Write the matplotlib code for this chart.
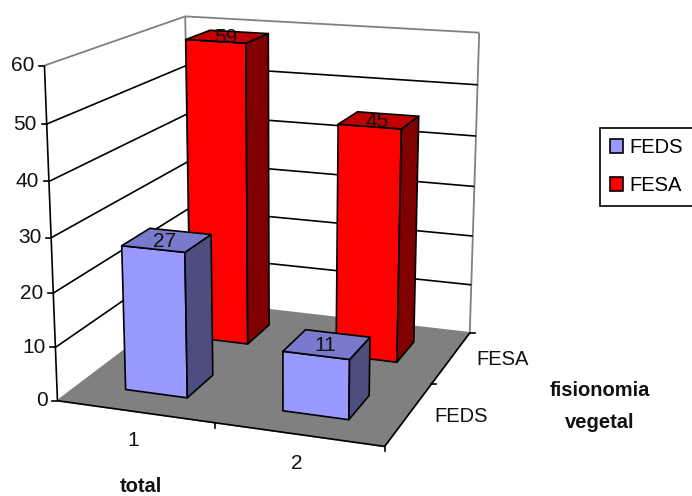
import numpy as np
import matplotlib
matplotlib.use('Agg')
import matplotlib.pyplot as plt
from matplotlib.patches import Polygon, Patch

plt.rcParams['font.family'] = ['Liberation Sans', 'DejaVu Sans']

# chart data
categories = ['1', '2']
series_names = ['FEDS', 'FESA']
feds_values = [27, 11]
fesa_values = [59, 45]
z_ticks = [0, 10, 20, 30, 40, 50, 60]

# colours of each series: front, side, top
feds_cols = ('#9999FF', '#4D4D80', '#7A7ACC')
fesa_cols = ('#FF0000', '#800000', '#C00000')
bar_half_x = 0.2
bar_half_y = 0.2

# frame corners (category, series, value) -> pixel, used to fit the camera
frame_3d = [(0, 0, 0), (2, 0, 0), (2, 2, 0), (0, 2, 0), (0, 0, 60), (0, 2, 60), (2, 2, 60)]
frame_px = [(57.5, 400.7), (384, 447), (470, 332), (190, 301), (45, 65), (184.5, 16.5), (479.5, 33)]


def fit_camera(pts3, pts2):
    rows = []
    for (x, y, z), (u, v) in zip(pts3, pts2):
        rows.append([x, y, z, 1, 0, 0, 0, 0, -u * x, -u * y, -u * z])
        rows.append([0, 0, 0, 0, x, y, z, 1, -v * x, -v * y, -v * z])
    rhs = np.array(pts2).ravel()
    sol = np.linalg.lstsq(np.array(rows, float), rhs, rcond=None)[0]
    return np.append(sol, 1).reshape(3, 4)


cam = fit_camera(frame_3d, frame_px)


def proj(x, y, z):
    u, v, w = cam @ np.array([x, y, z, 1.0])
    return u / w, v / w


fig = plt.figure(figsize=(6.92, 4.96), dpi=100)
ax = fig.add_axes([0, 0, 1, 1])
ax.set_xlim(0, 692)
ax.set_ylim(496, 0)
ax.axis('off')


def face(points, color, z, edge='black', lw=1.2):
    ax.add_patch(Polygon([proj(*p) for p in points], closed=True, facecolor=color,
                         edgecolor=edge, linewidth=lw, zorder=z, joinstyle='round'))


def line(a, b, color='black', lw=1.2, z=2):
    pa, pb = proj(*a), proj(*b)
    ax.plot([pa[0], pb[0]], [pa[1], pb[1]], color=color, lw=lw, zorder=z, solid_capstyle='butt')


# floor and walls
face([(0, 0, 0), (2, 0, 0), (2, 2, 0), (0, 2, 0)], '#808080', 1, edge='#808080')
line((0, 0, 60), (0, 2, 60), '#808080', 1.3)
line((0, 2, 60), (2, 2, 60), '#808080', 1.3)
line((0, 2, 0), (0, 2, 60), '#808080', 1.3)
line((2, 2, 0), (2, 2, 60), '#808080', 1.3)

# gridlines on both walls
for t in z_ticks[1:-1]:
    line((0, 0, t), (0, 2, t))
    line((0, 2, t), (2, 2, t))

# axes and tick marks
line((0, 0, 0), (0, 0, 60), z=3)
line((0, 0, 0), (2, 0, 0), z=3)
line((2, 0, 0), (2, 2, 0), z=3)
for t in z_ticks:
    px, py = proj(0, 0, t)
    ax.plot([px - 5, px], [py, py], color='black', lw=1.2, zorder=3)
    ax.text(px - 10, py, str(t), ha='right', va='center', fontsize=15, color='#111111')
for c in [1, 2]:
    px, py = proj(c, 0, 0)
    ax.plot([px, px], [py, py + 5], color='black', lw=1.2, zorder=3)
for s in [1, 2]:
    px, py = proj(2, s, 0)
    ax.plot([px, px + 5], [py, py], color='black', lw=1.2, zorder=3)

for i, name in enumerate(categories):
    px, py = proj(i + 0.5, 0, 0)
    ax.text(px - 2, py + 29, name, ha='center', va='center', fontsize=15, color='#111111')
for j, name in enumerate(series_names):
    px, py = proj(2, j + 0.5, 0)
    ax.text(px + 25, py + 2.5, name, ha='left', va='center', fontsize=14.5, color='#111111')

ax.text(141, 487, 'total', ha='center', va='center', fontsize=14.5, fontweight='bold', color='#111111')
ax.text(600, 391, 'fisionomia', ha='center', va='center', fontsize=14.5, fontweight='bold', color='#111111')
ax.text(600, 423, 'vegetal', ha='center', va='center', fontsize=14.5, fontweight='bold', color='#111111')

# bars, back row first so the front row covers it
rows = [(1, fesa_values, fesa_cols), (0, feds_values, feds_cols)]
zo = 5
for s, values, cols in rows:
    for c, val in enumerate(values):
        x0, x1 = c + 0.5 - bar_half_x, c + 0.5 + bar_half_x
        y0, y1 = s + 0.5 - bar_half_y, s + 0.5 + bar_half_y
        face([(x0, y0, 0), (x1, y0, 0), (x1, y0, val), (x0, y0, val)], cols[0], zo)
        face([(x1, y0, 0), (x1, y1, 0), (x1, y1, val), (x1, y0, val)], cols[1], zo)
        face([(x0, y0, val), (x1, y0, val), (x1, y1, val), (x0, y1, val)], cols[2], zo)
        px, py = proj(c + 0.5, s + 0.5, val)
        ax.text(px - 2, py + 1, str(val), ha='center', va='center', fontsize=15, color='#111111', zorder=20)
        zo += 1

# legend runs past the right edge of the figure
handles = [Patch(facecolor=feds_cols[0], edgecolor='black', linewidth=1.2),
           Patch(facecolor=fesa_cols[0], edgecolor='black', linewidth=1.2)]
leg = ax.legend(handles, series_names, loc='upper left', bbox_to_anchor=(600, 127.5),
                bbox_transform=ax.transData, fontsize=14.5, frameon=True, fancybox=False,
                edgecolor='black', framealpha=1, borderaxespad=0, handlelength=0.62,
                handleheight=0.65, handletextpad=0.33, labelspacing=0.95, borderpad=0.52)
leg.get_frame().set_linewidth(1.2)
leg.set_zorder(30)

fig.savefig('out.png', dpi=100)
